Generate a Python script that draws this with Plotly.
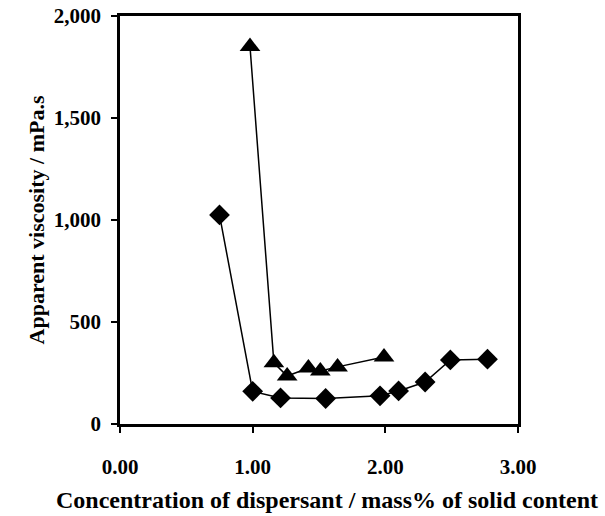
import plotly.graph_objects as go

# Apparent viscosity vs dispersant concentration
diamond_x = [0.75, 1.00, 1.21, 1.55, 1.96, 2.10, 2.30, 2.49, 2.77]
diamond_y = [1025, 160, 128, 125, 138, 162, 206, 314, 318]

triangle_x = [0.98, 1.16, 1.26, 1.42, 1.51, 1.64, 1.99]
triangle_y = [1850, 300, 235, 274, 260, 280, 328]

x_ticks = [0, 1, 2, 3]
x_ticktext = ["0.00", "1.00", "2.00", "3.00"]
y_ticks = [0, 500, 1000, 1500, 2000]
y_ticktext = ["0", "500", "1,000", "1,500", "2,000"]

x_title = "Concentration of dispersant / mass% of solid content"
y_title = "Apparent viscosity / mPa.s"

font_family = "Liberation Serif"


def bold(labels):
    return [f"<b>{t}</b>" for t in labels]


fig = go.Figure()
fig.add_trace(go.Scatter(
    x=diamond_x, y=diamond_y, mode="lines+markers",
    line=dict(color="black", width=1.5),
    marker=dict(symbol="diamond", size=16, color="black"),
    showlegend=False,
))
fig.add_trace(go.Scatter(
    x=triangle_x, y=triangle_y, mode="lines+markers",
    line=dict(color="black", width=1.5),
    marker=dict(symbol="triangle-up", size=18, color="black"),
    showlegend=False,
))

# x-axis caption sits slightly right of the plot centre
fig.add_annotation(
    text=f"<b>{x_title}</b>", xref="paper", yref="paper",
    x=0.52, y=-0.186, xanchor="center", yanchor="middle",
    showarrow=False, font=dict(family=font_family, size=24, color="black"),
)

fig.update_layout(
    width=605, height=516,
    margin=dict(l=120, r=87, t=16, b=92),
    paper_bgcolor="white", plot_bgcolor="white",
    font=dict(family=font_family, size=16, color="black"),
    xaxis=dict(
        range=[0, 3], tickvals=x_ticks, ticktext=bold(x_ticktext),
        automargin=False,
        showgrid=False, zeroline=False,
        showline=True, linecolor="black", linewidth=2.5, mirror=True,
        ticks="outside", ticklen=6, tickwidth=1.5, tickcolor="black",
        ticklabelstandoff=16,
        tickfont=dict(family=font_family, size=21, color="black"),
    ),
    yaxis=dict(
        range=[0, 2000], tickvals=y_ticks, ticktext=bold(y_ticktext),
        automargin=False,
        showgrid=False, zeroline=False,
        showline=True, linecolor="black", linewidth=2.5, mirror=True,
        ticks="outside", ticklen=6, tickwidth=1.5, tickcolor="black",
        ticklabelstandoff=6,
        tickfont=dict(family=font_family, size=21, color="black"),
        title=dict(text=f"<b>{y_title}</b>",
                   font=dict(family=font_family, size=22), standoff=4),
    ),
)

fig.write_html("out.html")
